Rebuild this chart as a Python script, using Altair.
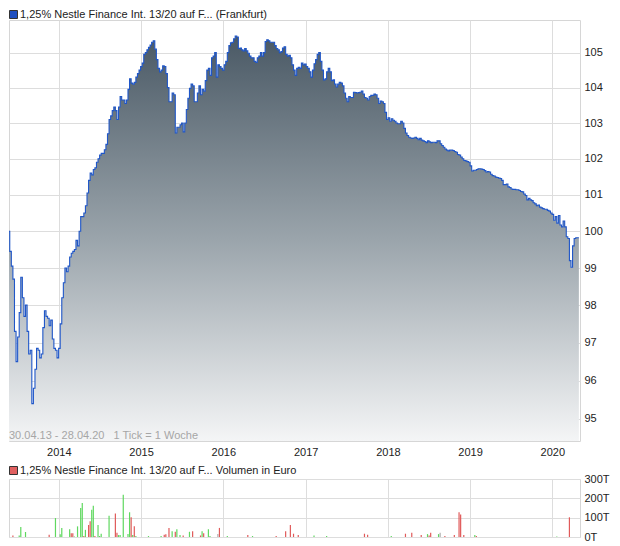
import altair as alt
import pandas as pd

# ---------------- data ----------------
start_date = "2013-04-30"          # first weekly tick
title_price = "1,25% Nestle Finance Int. 13/20 auf F... (Frankfurt)"
title_volume = "1,25% Nestle Finance Int. 13/20 auf F... Volumen in Euro"
note_text = "30.04.13 - 28.04.20\u00a0\u00a0\u00a01 Tick = 1 Woche"

# weekly closing prices (1 Tick = 1 Woche)
prices = [
    100.45, 99.95, 100.2, 100.0, 99.45, 99.05, 98.7, 97.3, 96.5, 97.15,
    97.8, 98.75, 98.2, 97.7, 98.0, 97.3, 96.7, 96.8, 95.4, 95.8,
    96.3, 96.85, 96.8, 96.6, 96.7, 97.4, 97.85, 97.7, 97.65, 97.45,
    97.6, 97.1, 96.85, 96.8, 96.6, 96.85, 97.5, 98.2, 98.6, 99.0,
    98.9, 99.05, 99.3, 99.4, 99.45, 99.5, 99.75, 99.6, 100.0, 100.4,
    100.4, 100.5, 100.7, 101.05, 101.4, 101.6, 101.55, 101.7, 101.75, 101.9,
    102.0, 102.1, 102.15, 102.15, 102.25, 102.4, 102.7, 103.1, 103.2, 103.35,
    103.45, 103.35, 103.1, 103.45, 103.75, 103.65, 103.65, 103.55, 103.65, 103.95,
    104.25, 104.13, 104.1, 104.15, 104.3, 104.4, 104.5, 104.6, 104.7, 104.95,
    105.0, 105.08, 105.15, 105.22, 105.3, 105.34, 105.1, 104.8, 104.55, 104.45,
    104.5, 104.62, 104.6, 104.4, 104.0, 103.6, 103.6, 103.85, 103.8, 102.72,
    102.88, 102.88, 102.95, 103.0, 102.75, 103.0, 103.38, 103.7, 103.98, 104.1,
    104.05, 103.6, 103.6, 103.85, 104.05, 103.8, 103.95, 103.9, 104.2, 104.5,
    104.55, 104.35, 104.85, 104.9, 105.0, 104.3, 104.65, 104.6, 104.55, 104.5,
    104.65, 104.75, 105.0, 105.2, 105.28, 105.3, 105.4, 105.48, 105.45, 105.12,
    105.13, 105.08, 105.05, 105.12, 105.05, 104.98, 104.9, 104.85, 104.85, 104.75,
    104.72, 104.85, 104.9, 105.0, 104.9, 105.0, 105.32, 105.37, 105.34, 105.3,
    105.3, 105.3, 105.2, 105.12, 105.08, 105.0, 105.03, 105.13, 105.17, 104.95,
    104.9, 104.92, 104.85, 104.65, 104.5, 104.35, 104.55, 104.58, 104.55, 104.7,
    104.65, 104.67, 104.6, 104.55, 104.45, 104.3, 104.5, 104.68, 104.8, 104.95,
    105.0, 104.75, 104.5, 104.22, 104.25, 104.45, 104.55, 104.45, 104.2, 104.22,
    104.1, 104.02, 104.1, 104.15, 104.13, 104.05, 103.85, 103.7, 103.6, 103.75,
    103.72, 103.72, 103.87, 103.86, 103.85, 103.86, 103.87, 103.9, 103.82, 103.72,
    103.7, 103.65, 103.75, 103.78, 103.78, 103.82, 103.8, 103.7, 103.55, 103.62,
    103.6, 103.55, 103.3, 103.1, 103.15, 103.05, 103.12, 103.08, 103.05, 103.0,
    102.98, 102.98, 103.05, 103.0, 102.85, 102.72, 102.65, 102.6, 102.58, 102.57,
    102.58, 102.6, 102.57, 102.53, 102.57, 102.52, 102.5, 102.48, 102.45, 102.5,
    102.47, 102.45, 102.46, 102.46, 102.45, 102.5, 102.5, 102.42, 102.37, 102.32,
    102.27, 102.24, 102.22, 102.24, 102.24, 102.23, 102.2, 102.18, 102.12, 102.1,
    102.05, 102.0, 101.95, 101.94, 101.92, 101.9, 101.8, 101.66, 101.68, 101.68,
    101.7, 101.72, 101.72, 101.71, 101.7, 101.67, 101.63, 101.64, 101.63, 101.57,
    101.53, 101.52, 101.49, 101.48, 101.46, 101.45, 101.4, 101.28, 101.28, 101.3,
    101.22, 101.2, 101.16, 101.15, 101.15, 101.14, 101.14, 101.12, 101.09, 101.08,
    101.02, 100.98, 100.86, 100.9, 100.86, 100.84, 100.78, 100.75, 100.7, 100.72,
    100.66, 100.64, 100.62, 100.6, 100.6, 100.57, 100.55, 100.5, 100.46, 100.3,
    100.4, 100.22, 100.43, 100.17, 100.12, 100.28, 100.12, 99.85, 99.8, 99.2,
    99.02, 99.6, 99.8, 99.82, 99.82, 99.82,
]

# weekly volume (thousands of euro), week index from start_date
vol_weeks = [
    0, 1, 2, 3, 6, 10, 11, 14, 29, 33,
    36, 37, 42, 43, 44, 45, 47, 49, 50, 51,
    52, 54, 55, 56, 57, 58, 60, 61, 62, 67,
    71, 72, 73, 74, 76, 79, 80, 81, 82, 83,
    84, 92, 100, 102, 103, 105, 107, 109, 110, 112,
    114, 118, 120, 125, 126, 127, 130, 131, 136, 137,
    142, 155, 158, 173, 179, 182, 184, 187, 197, 205,
    229, 231, 246, 255, 259, 265, 269, 270, 271, 276,
    277, 280, 286, 289, 290, 292, 299, 300, 351, 359,
]
vol_values = [
    72, 5, 30, 67, 8, 8, 52, 26, 12, 98,
    14, 47, 40, 20, 20, 3, 55, 150, 176, 5,
    37, 62, 82, 141, 162, 5, 62, 5, 17, 110,
    122, 22, 10, 10, 219, 15, 128, 102, 10, 55,
    5, 5, 5, 12, 14, 47, 30, 27, 40, 10,
    8, 27, 30, 8, 30, 20, 40, 5, 15, 47,
    5, 10, 5, 5, 30, 62, 17, 10, 8, 5,
    17, 12, 5, 17, 22, 10, 15, 8, 22, 15,
    22, 5, 10, 128, 117, 10, 10, 5, 3, 102,
]
vol_dir = [
    "f", "d", "u", "d", "d", "u", "u", "u", "d", "u",
    "u", "u", "u", "d", "d", "u", "u", "u", "u", "d",
    "u", "d", "d", "u", "u", "d", "u", "u", "u", "u",
    "d", "d", "u", "u", "u", "u", "u", "d", "u", "d",
    "u", "u", "u", "d", "d", "d", "u", "d", "u", "u",
    "d", "u", "d", "d", "u", "d", "u", "u", "f", "d",
    "u", "d", "u", "d", "d", "d", "d", "d", "u", "u",
    "d", "d", "u", "d", "d", "d", "u", "d", "d", "u",
    "f", "d", "d", "d", "d", "d", "u", "d", "u", "d",
]

year_ticks = [2014, 2015, 2016, 2017, 2018, 2019, 2020]
price_ticks = [95, 96, 97, 98, 99, 100, 101, 102, 103, 104, 105]
vol_ticks = [0, 100, 200, 300]

# ---------------- tables ----------------
t0 = pd.Timestamp(start_date)
price_df = pd.DataFrame({
    "date": [(t0 + pd.Timedelta(weeks=i)).strftime("%Y-%m-%dT%H:%M:%S") for i in range(len(prices))],
    "price": prices,
})
vol_df = pd.DataFrame({
    "date": [(t0 + pd.Timedelta(weeks=w)).strftime("%Y-%m-%dT%H:%M:%S") for w in vol_weeks],
    "vol": vol_values,
    "dir": vol_dir,
})

FONT = "Liberation Sans"
FS = 11
W = 571
H_TOP = 421
H_BOT = 58
Y_MIN, Y_MAX = 94.43, 105.94

x_scale = alt.Scale(
    domain=[alt.DateTime(year=2013, month=5, date=24, hours=16),
            alt.DateTime(year=2020, month=5, date=3)],
    nice=False,
)
x_vals = [alt.DateTime(year=y, month=1, date=1) for y in year_ticks]

x_axis_top = alt.Axis(values=x_vals, format="%Y", title=None, grid=True,
                      gridColor="#dddddd", ticks=False, domain=False,
                      labelPadding=5, labelFontSize=FS, labelColor="#222222",
                      labelFont=FONT, labelFlush=False)
y_axis_top = alt.Axis(orient="right", values=price_ticks, title=None, grid=True,
                      gridColor="#dddddd", ticks=False, domain=False,
                      labelPadding=4, labelFontSize=FS, labelColor="#222222",
                      labelFont=FONT)

base = alt.Chart(price_df).encode(
    x=alt.X("date:T", scale=x_scale, axis=x_axis_top),
    y=alt.Y("price:Q", scale=alt.Scale(type="log", domain=[Y_MIN, Y_MAX], nice=False, zero=False),
            axis=y_axis_top),
)

area = base.mark_area(
    interpolate="step-after", clip=True,
    color=alt.Gradient(
        gradient="linear",
        stops=[alt.GradientStop(color="#4a5965", offset=0),
               alt.GradientStop(color="#9aa4ab", offset=0.5),
               alt.GradientStop(color="#f4f5f6", offset=1)],
        x1=0, x2=0, y1=0, y2=1,
    ),
).encode(y2=alt.datum(Y_MIN))

line = base.mark_line(interpolate="step-after", clip=True, color="#1f56c8", strokeWidth=1.1)

lbl_df = pd.DataFrame({"t": [title_price]})
legend_sq = alt.Chart(lbl_df).mark_rect(color="#1f4fc0", stroke="#333333", strokeWidth=1).encode(
    x=alt.value(0.5), x2=alt.value(8.5), y=alt.value(-9.5), y2=alt.value(-1.5))
legend_tx = alt.Chart(lbl_df).mark_text(align="left", baseline="alphabetic", font=FONT,
                                        fontSize=FS, color="#222222").encode(
    x=alt.value(11), y=alt.value(-2), text="t:N")
note_df = pd.DataFrame({"t": [note_text]})
note = alt.Chart(note_df).mark_text(align="left", baseline="alphabetic", font=FONT,
                                     fontSize=FS, color="#a6a6a6").encode(
    x=alt.value(0), y=alt.value(H_TOP - 2), text="t:N")

top = alt.layer(area, line, legend_sq, legend_tx, note).properties(width=W, height=H_TOP)

# volume panel
x_axis_bot = alt.Axis(values=x_vals, title=None, grid=True, gridColor="#dddddd",
                      ticks=False, domain=False, labels=False)
bars = alt.Chart(vol_df).mark_rule(strokeWidth=1.2, clip=True).encode(
    x=alt.X("date:T", scale=x_scale, axis=x_axis_bot),
    y=alt.Y("vol:Q", scale=alt.Scale(domain=[0, 300], nice=False),
            axis=alt.Axis(orient="right", values=vol_ticks, title=None, grid=True,
                          gridColor="#dddddd", ticks=False, domain=False,
                          labelPadding=4, labelFontSize=FS, labelColor="#222222",
                          labelFont=FONT, labelExpr="datum.value + 'T'")),
    y2=alt.datum(0),
    color=alt.Color("dir:N", scale=alt.Scale(domain=["u", "d", "f"],
                                             range=["#5fd85f", "#e05a5a", "#b0b0b0"]),
                    legend=None),
)
vlbl_df = pd.DataFrame({"t": [title_volume]})
vlegend_sq = alt.Chart(vlbl_df).mark_rect(color="#e06060", stroke="#333333", strokeWidth=1).encode(
    x=alt.value(0.5), x2=alt.value(8.5), y=alt.value(-12.5), y2=alt.value(-4.5))
vlegend_tx = alt.Chart(vlbl_df).mark_text(align="left", baseline="alphabetic", font=FONT,
                                          fontSize=FS, color="#222222").encode(
    x=alt.value(11), y=alt.value(-5), text="t:N")

bottom = alt.layer(bars, vlegend_sq, vlegend_tx).properties(width=W, height=H_BOT)

chart = alt.vconcat(top, bottom, spacing=38, bounds="flush").properties(
    padding={"left": 0, "top": 0, "right": 2, "bottom": 2},
).configure_view(stroke="#d6d6d6", strokeWidth=1)

chart.save("out.html", embed_options={"renderer": "svg", "actions": False})
